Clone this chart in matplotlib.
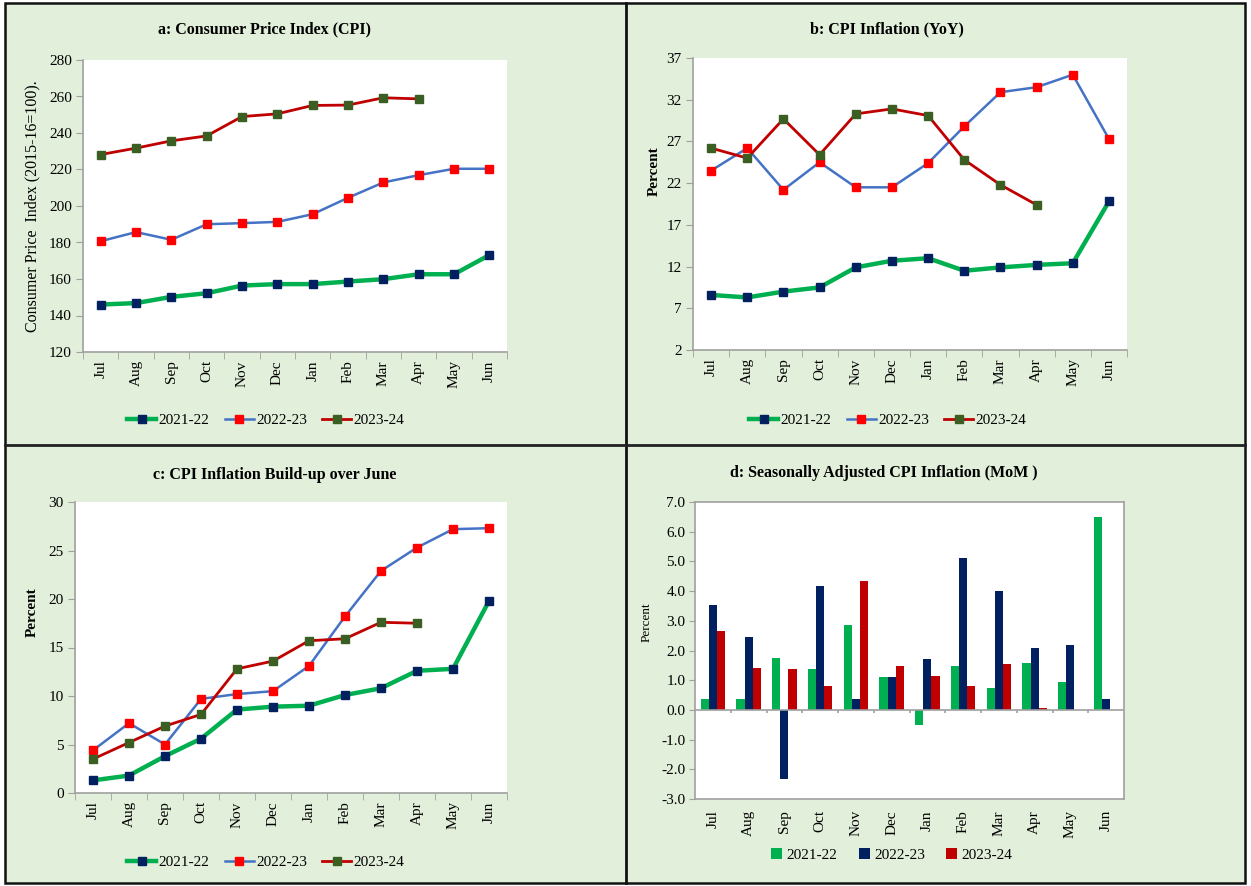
import numpy as np
import matplotlib
matplotlib.use("Agg")
import matplotlib.pyplot as plt
from matplotlib.patches import Rectangle
from matplotlib.lines import Line2D

plt.rcParams['font.family'] = ['Liberation Serif', 'DejaVu Serif']

months = ["Jul", "Aug", "Sep", "Oct", "Nov", "Dec", "Jan", "Feb", "Mar", "Apr", "May", "Jun"]
years = ["2021-22", "2022-23", "2023-24"]

# a: CPI index (2015-16=100)
cpi_2122 = [146.0, 146.8, 150.2, 152.2, 156.4, 157.2, 157.2, 158.6, 159.9, 162.6, 162.6, 173.1]
cpi_2223 = [180.7, 185.7, 181.5, 190.0, 190.6, 191.3, 195.5, 204.5, 212.9, 216.9, 220.4, 220.4]
cpi_2324 = [228.2, 231.7, 235.7, 238.4, 249.0, 250.5, 255.1, 255.3, 259.3, 258.7, np.nan, np.nan]

# b: YoY inflation
yoy_2122 = [8.6, 8.3, 9.0, 9.5, 11.9, 12.7, 13.0, 11.5, 11.9, 12.2, 12.4, 19.8]
yoy_2223 = [23.5, 26.2, 21.2, 24.5, 21.5, 21.5, 24.4, 28.8, 32.9, 33.5, 35.0, 27.3]
yoy_2324 = [26.2, 25.0, 29.7, 25.4, 30.3, 30.9, 30.1, 24.8, 21.8, 19.4, np.nan, np.nan]

# c: build-up over June
bu_2122 = [1.3, 1.8, 3.8, 5.6, 8.6, 8.9, 9.0, 10.1, 10.8, 12.6, 12.8, 19.8]
bu_2223 = [4.4, 7.2, 5.0, 9.7, 10.2, 10.5, 13.1, 18.2, 22.9, 25.3, 27.2, 27.3]
bu_2324 = [3.5, 5.2, 6.9, 8.1, 12.8, 13.6, 15.7, 15.9, 17.6, 17.5, np.nan, np.nan]

# d: seasonally adjusted MoM
mom_2122 = [0.38, 0.38, 1.75, 1.37, 2.87, 1.10, -0.50, 1.49, 0.73, 1.58, 0.93, 6.48]
mom_2223 = [3.54, 2.47, -2.34, 4.18, 0.38, 1.10, 1.70, 5.12, 4.01, 2.10, 2.17, 0.38]
mom_2324 = [2.65, 1.40, 1.37, 0.81, 4.35, 1.49, 1.15, 0.81, 1.54, 0.06, np.nan, np.nan]

BG = "#E2EFDA"
GREEN = "#00B050"
NAVY = "#002060"
BLUE = "#4472C4"
RED = "#FF0000"
DRED = "#C00000"
DGREEN = "#3B5E22"
SPINE = "#A0A0A0"

W, H = 1251, 886
fig = plt.figure(figsize=(W / 100, H / 100), dpi=100)
fig.patch.set_facecolor("white")


def fx(px):
    return px / W


def fy(py):
    return 1 - py / H


fig.patches.append(Rectangle((fx(5), fy(883)), fx(1245) - fx(5), fy(3) - fy(883),
                             transform=fig.transFigure, facecolor=BG,
                             edgecolor="#111111", linewidth=1.8, zorder=-10))
fig.lines.append(Line2D([fx(626), fx(626)], [fy(3), fy(883)], transform=fig.transFigure,
                        color="#111111", linewidth=2, zorder=-5))
fig.lines.append(Line2D([fx(5), fx(1245)], [fy(445), fy(445)], transform=fig.transFigure,
                        color="#222222", linewidth=2, zorder=-5))

x = np.arange(len(months))


def axes_px(l, t, r, b):
    return fig.add_axes([fx(l), fy(b), fx(r) - fx(l), fy(t) - fy(b)])


def style_line_axes(ax, ylim, yticks):
    ax.set_facecolor("white")
    ax.set_xlim(-0.5, 11.5)
    ax.set_ylim(*ylim)
    ax.set_yticks(yticks)
    ax.set_xticks(x)
    ax.set_xticklabels(months, rotation=90, fontsize=11)
    ax.tick_params(axis='x', which='major', length=0, pad=6)
    ax.set_xticks(np.arange(-0.5, 12, 1), minor=True)
    ax.tick_params(axis='x', which='minor', length=5, color=SPINE, direction='out')
    ax.tick_params(axis='y', length=5, color=SPINE, labelsize=11, pad=3)
    for s in ["top", "right"]:
        ax.spines[s].set_visible(False)
    for s in ["left", "bottom"]:
        ax.spines[s].set_color(SPINE)
        ax.spines[s].set_linewidth(1.2)


def draw_lines(ax, s1, s2, s3):
    h1, = ax.plot(x, s1, color=GREEN, lw=3.2, marker="s", ms=6, mfc=NAVY, mec=NAVY,
                  label=years[0])
    h2, = ax.plot(x, s2, color=BLUE, lw=1.8, marker="s", ms=6, mfc=RED, mec=RED,
                  label=years[1])
    h3, = ax.plot(x, s3, color=DRED, lw=2.0, marker="s", ms=6, mfc=DGREEN, mec=DGREEN,
                  label=years[2])
    return [h1, h2, h3]


def add_legend(handles, cx, cy):
    fig.legend(handles=handles, loc="center", bbox_to_anchor=(fx(cx), fy(cy)), ncol=3,
               frameon=False, fontsize=11, handlelength=1.9, columnspacing=1.0,
               handletextpad=0.15)


# ---- panel a
ax_a = axes_px(83, 60, 507, 352)
style_line_axes(ax_a, (120, 280), np.arange(120, 281, 20))
hs = draw_lines(ax_a, cpi_2122, cpi_2223, cpi_2324)
fig.text(fx(264), fy(29), "a: Consumer Price Index (CPI)", ha="center", va="center",
         fontsize=11.5, fontweight="bold")
fig.text(fx(32), fy(206), "Consumer Price  Index (2015-16=100).", rotation=90,
         ha="center", va="center", fontsize=11.5)
add_legend(hs, 266, 420)

# ---- panel b
ax_b = axes_px(693, 58, 1127, 350)
style_line_axes(ax_b, (2, 37), np.arange(2, 38, 5))
hs = draw_lines(ax_b, yoy_2122, yoy_2223, yoy_2324)
fig.text(fx(887), fy(29), "b: CPI Inflation (YoY)", ha="center", va="center",
         fontsize=11.5, fontweight="bold")
fig.text(fx(654), fy(171), "Percent", rotation=90, ha="center", va="center",
         fontsize=11, fontweight="bold")
add_legend(hs, 888, 420)

# ---- panel c
ax_c = axes_px(75, 502, 507, 793)
style_line_axes(ax_c, (0, 30), np.arange(0, 31, 5))
hs = draw_lines(ax_c, bu_2122, bu_2223, bu_2324)
fig.text(fx(275), fy(475), "c: CPI Inflation Build-up over June", ha="center", va="center",
         fontsize=11.5, fontweight="bold")
fig.text(fx(32), fy(612), "Percent", rotation=90, ha="center", va="center",
         fontsize=11, fontweight="bold")
add_legend(hs, 266, 862)

# ---- panel d
ax_d = axes_px(695, 502, 1124, 799)
ax_d.set_facecolor("white")
bw = 0.23
b1 = ax_d.bar(x - bw, mom_2122, width=bw, color=GREEN, label=years[0])
b2 = ax_d.bar(x, mom_2223, width=bw, color=NAVY, label=years[1])
b3 = ax_d.bar(x + bw, mom_2324, width=bw, color=DRED, label=years[2])
ax_d.set_xlim(-0.5, 11.5)
ax_d.set_ylim(-3, 7)
ax_d.set_yticks(np.arange(-3, 7.1, 1))
ax_d.set_yticklabels([f"{v:.1f}" for v in np.arange(-3, 7.1, 1)])
ax_d.set_xticks(x)
ax_d.set_xticklabels(months, rotation=90, fontsize=11)
ax_d.tick_params(axis='x', length=0, pad=8)
ax_d.tick_params(axis='y', length=4, color=SPINE, labelsize=11, pad=3)
for s in ax_d.spines.values():
    s.set_color(SPINE)
    s.set_linewidth(1.2)
ax_d.axhline(0, color=SPINE, lw=1.2, zorder=3)
ax_d.vlines(np.arange(0.5, 11.5, 1), -0.12, 0, color=SPINE, lw=1.2, zorder=3)
fig.text(fx(884), fy(473), "d: Seasonally Adjusted CPI Inflation (MoM )", ha="center",
         va="center", fontsize=11.5, fontweight="bold")
fig.text(fx(647), fy(622), "Percent", rotation=90, ha="center", va="center", fontsize=9.5)
fig.legend(handles=[b1, b2, b3], loc="center", bbox_to_anchor=(fx(892), fy(855)), ncol=3,
           frameon=False, fontsize=11, handlelength=0.7, handleheight=0.7,
           columnspacing=1.4, handletextpad=0.3)

fig.savefig("out.png", dpi=100, facecolor=fig.get_facecolor())
